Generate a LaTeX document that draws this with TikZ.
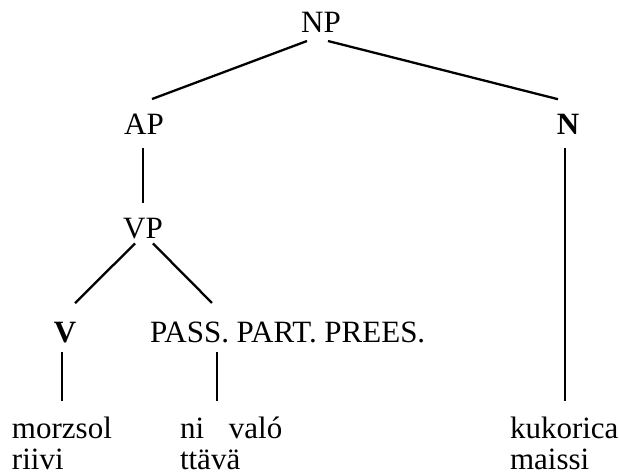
\documentclass[tikz,border=0pt]{standalone}
\usepackage{fontspec}
\setmainfont{Liberation Serif}
\begin{document}
\begin{tikzpicture}[x=1pt,y=1pt,
  lab/.style={inner sep=0pt,outer sep=0pt,font=\fontsize{31}{33}\selectfont},
  edge/.style={line width=2.3pt}]
\useasboundingbox (0,0) rectangle (619,475);
% categories
\node[lab,anchor=base] (NP) at (321,442) {NP};
\node[lab,anchor=base] (AP) at (144,340) {AP};
\node[lab,anchor=base] (N) at (568,340) {\bfseries N};
\node[lab,anchor=base] (VP) at (143,237) {VP};
\node[lab,anchor=base] (V) at (65,133) {\bfseries V};
\node[lab,anchor=base west] (PASS) at (150,133) {PASS. PART. PREES.};
% words
\node[lab,anchor=base west] (w1) at (12,37) {morzsol};
\node[lab,anchor=base west] (w1b) at (12,6) {riivi};
\node[lab,anchor=base west] (w2) at (180,37) {ni\hspace{0.8em}való};
\node[lab,anchor=base west] (w2b) at (180,6) {ttävä};
\node[lab,anchor=base west] (w3) at (510,37) {kukorica};
\node[lab,anchor=base west] (w3b) at (510,6) {maissi};
% connectors
\draw[edge] ([shift={(-14,-8)}]NP.south) -- ([shift={(8,15.5)}]AP.north);
\draw[edge] ([shift={(7,-8)}]NP.south) -- ([shift={(-10,15.5)}]N.north);
\draw[edge] ([shift={(-1,-13)}]AP.south) -- ([shift={(0,14.5)}]VP.north);
\draw[edge] ([shift={(-3,-13)}]N.south) -- ++(0,-253);
\draw[edge] ([shift={(-8,-5)}]VP.south) -- ([shift={(10,18.5)}]V.north);
\draw[edge] ([shift={(10,-5)}]VP.south) -- ([shift={(62,18.5)}]PASS.north west);
\draw[edge] ([shift={(-3,-10)}]V.south) -- ++(0,-49);
\draw[edge] ([shift={(66.7,-10)}]PASS.south west) -- ++(0,-49);
\end{tikzpicture}
\end{document}
